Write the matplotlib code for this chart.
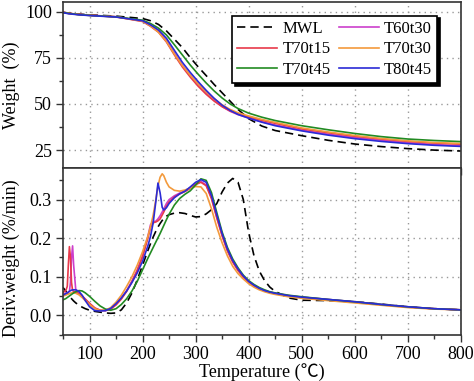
import matplotlib
matplotlib.use("Agg")
import matplotlib.pyplot as plt
from matplotlib.ticker import MultipleLocator, FormatStrFormatter

plt.rcParams['font.family'] = ['Liberation Serif', 'Noto Sans CJK SC']
plt.rcParams['font.size'] = 13

# series names and styles
names = ['MWL', 'T60t30', 'T70t15', 'T70t30', 'T70t45', 'T80t45']
colors = ['black', '#cc3fcc', '#e8394a', '#f39a3c', '#228b22', '#2b2bd6']

# TG curves (weight %)
T_tg = [50, 60, 80, 100, 150, 200, 215, 230, 245, 260, 275, 290, 305, 320,
        335, 350, 365, 380, 400, 425, 450, 500, 550, 600, 650, 700, 750, 800]
tg_mwl = [99.5, 99.2, 98.6, 98.2, 97.5, 96.2, 95.0, 93.0, 89.5, 85.0, 80.5, 75.0, 70.0, 65.3,
          60.5, 56.0, 51.5, 47.0, 42.0, 38.0, 35.6, 32.8, 30.3, 28.3, 26.9, 25.8, 25.0, 24.5]
tg_t60t30 = [99.6, 99.0, 98.4, 98.0, 97.2, 94.8, 92.3, 89.3, 84.3, 77.5, 71.0, 65.5, 60.5, 56.0,
             52.0, 48.6, 46.0, 44.2, 42.4, 40.3, 38.6, 35.8, 33.6, 31.8, 30.3, 29.0, 28.0, 27.3]
tg_t70t15 = [99.6, 99.1, 98.4, 98.0, 97.1, 94.6, 92.0, 88.8, 83.5, 76.5, 70.0, 64.5, 59.5, 55.2,
             51.5, 48.5, 46.2, 44.6, 43.0, 41.1, 39.5, 36.5, 34.4, 32.5, 31.0, 29.7, 28.8, 28.2]
tg_t70t30 = [99.5, 99.0, 98.3, 97.9, 97.1, 94.8, 92.2, 88.8, 83.8, 77.0, 70.8, 65.5, 60.8, 56.5,
             52.8, 49.5, 47.0, 45.2, 43.5, 41.6, 40.0, 37.0, 34.8, 32.9, 31.3, 30.0, 29.1, 28.6]
tg_t70t45 = [99.5, 99.0, 98.3, 97.9, 97.1, 95.3, 93.5, 91.0, 87.3, 82.0, 76.5, 71.0, 66.0, 61.3,
             57.0, 53.2, 50.0, 47.5, 45.0, 42.8, 41.0, 38.2, 36.0, 34.0, 32.3, 31.0, 30.2, 29.6]
tg_t80t45 = [99.4, 98.8, 98.2, 97.8, 97.0, 95.0, 92.8, 90.0, 85.5, 79.0, 72.5, 67.0, 62.0, 57.3,
             53.0, 49.3, 46.5, 44.3, 42.3, 40.1, 38.2, 35.4, 33.1, 31.2, 29.7, 28.5, 27.6, 27.0]

# DTG curves (%/min)
T_dtg = [50, 55, 58, 60, 62, 64, 66, 68, 70, 74,
         80, 86, 92, 100, 110, 120, 130, 140, 150, 160,
         170, 180, 190, 200, 210, 215, 220, 225, 229, 233,
         237, 240, 245, 250, 260, 270, 280, 290, 300, 310,
         320, 330, 340, 350, 360, 370, 380, 390, 400, 410,
         420, 430, 440, 450, 475, 500, 550, 600, 650, 700,
         750, 800]
dtg_mwl = [.072, .063, .057, .053, .049, .046, .043, .040, .037, .032,
           .026, .021, .017, .013, .010, .008, .006, .005, .006, .014,
           .032, .058, .092, .130, .168, .186, .203, .218, .229, .238,
           .246, .251, .257, .261, .265, .266, .264, .259, .255, .256,
           .263, .274, .290, .320, .343, .355, .345, .300, .215, .155,
           .115, .090, .073, .062, .045, .039, .038, .035, .029, .022,
           .017, .014]
dtg_t60t30 = [.055, .057, .058, .060, .062, .085, .150, .180, .130, .066,
              .058, .050, .041, .030, .018, .013, .012, .017, .028, .044,
              .064, .089, .118, .155, .205, .235, .243, .244, .250, .258,
              .268, .276, .290, .300, .310, .317, .323, .331, .341, .347,
              .338, .305, .255, .208, .168, .139, .117, .100, .087, .077,
              .070, .064, .060, .057, .051, .047, .041, .035, .028, .022,
              .017, .014]
dtg_t70t15 = [.060, .063, .075, .130, .178, .150, .085, .064, .062, .060,
              .056, .050, .042, .031, .019, .013, .012, .016, .027, .042,
              .062, .087, .116, .152, .200, .228, .240, .242, .245, .250,
              .260, .268, .283, .294, .307, .315, .321, .329, .339, .345,
              .336, .302, .252, .206, .167, .138, .116, .099, .086, .076,
              .069, .063, .059, .056, .050, .046, .040, .034, .027, .021,
              .017, .014]
dtg_t70t30 = [.050, .052, .054, .055, .056, .057, .058, .058, .058, .057,
              .053, .046, .038, .028, .017, .012, .013, .020, .034, .052,
              .075, .100, .130, .165, .205, .230, .260, .300, .335, .358,
              .367, .362, .345, .333, .324, .322, .325, .330, .334, .333,
              .316, .276, .228, .188, .154, .127, .108, .094, .082, .073,
              .066, .061, .057, .054, .048, .044, .038, .032, .026, .020,
              .016, .014]
dtg_t70t45 = [.040, .043, .046, .048, .050, .052, .054, .056, .058, .061,
              .064, .063, .058, .049, .036, .024, .016, .013, .017, .028,
              .043, .063, .088, .118, .148, .162, .176, .190, .201, .212,
              .224, .233, .248, .262, .286, .303, .314, .323, .338, .354,
              .350, .318, .266, .216, .176, .146, .123, .104, .090, .080,
              .072, .066, .061, .058, .052, .048, .041, .035, .028, .022,
              .017, .014]
dtg_t80t45 = [.052, .056, .058, .060, .062, .064, .065, .066, .066, .066,
              .062, .052, .038, .022, .012, .011, .012, .018, .030, .045,
              .063, .085, .110, .140, .180, .205, .240, .295, .343, .318,
              .280, .273, .279, .290, .305, .315, .322, .333, .345, .352,
              .345, .310, .260, .212, .172, .142, .120, .102, .088, .078,
              .070, .064, .060, .057, .051, .047, .041, .035, .028, .022,
              .017, .014]

tg_all = [tg_mwl, tg_t60t30, tg_t70t15, tg_t70t30, tg_t70t45, tg_t80t45]
dtg_all = [dtg_mwl, dtg_t60t30, dtg_t70t15, dtg_t70t30, dtg_t70t45, dtg_t80t45]

fig, (ax1, ax2) = plt.subplots(2, 1, sharex=True, figsize=(4.74, 3.81), dpi=100)
fig.subplots_adjust(left=0.133, right=0.972, top=0.996, bottom=0.122, hspace=0)

lines = {}
for i in range(len(names)):
    if names[i] == 'MWL':
        ls = (0, (5, 3))
    else:
        ls = '-'
    l, = ax1.plot(T_tg, tg_all[i], color=colors[i], ls=ls, lw=1.2, label=names[i])
    ax2.plot(T_dtg, dtg_all[i], color=colors[i], ls=ls, lw=1.2, label=names[i])
    lines[names[i]] = l

# axes cosmetics
for ax in (ax1, ax2):
    ax.set_xlim(50, 800)
    ax.xaxis.set_major_locator(MultipleLocator(100))
    ax.xaxis.set_minor_locator(MultipleLocator(50))
    ax.grid(True, which='major', ls=(0, (1, 3)), color='#999999', lw=1.0)
    ax.tick_params(which='both', direction='out', color='#333333', width=1.0)
    ax.tick_params(which='major', length=5, pad=3)
    ax.tick_params(which='minor', length=3)
    for s in ax.spines.values():
        s.set_color('#333333')
        s.set_linewidth(1.2)

ax1.set_ylim(15.3, 105.4)
ax1.yaxis.set_major_locator(MultipleLocator(25))
ax1.yaxis.set_minor_locator(MultipleLocator(12.5))
ax1.tick_params(axis='x', labelbottom=False)
ax1.set_ylabel('Weight  (%)', fontsize=13)
ax1.yaxis.set_label_coords(-0.108, 0.5)

ax2.set_ylim(-0.05, 0.382)
ax2.yaxis.set_major_locator(MultipleLocator(0.1))
ax2.yaxis.set_minor_locator(MultipleLocator(0.05))
ax2.yaxis.set_major_formatter(FormatStrFormatter('%.1f'))
ax2.set_ylabel('Deriv.weight (%/min)', fontsize=13)
ax2.yaxis.set_label_coords(-0.108, 0.46)
ax2.set_xlabel('Temperature (\u2103)', fontsize=13, va='bottom')
ax2.xaxis.set_label_coords(0.553, 0.0, transform=fig.transFigure)

# legend filled row by row like the original
order = ['MWL', 'T70t15', 'T70t45', 'T60t30', 'T70t30', 'T80t45']
leg = ax1.legend([lines[n] for n in order], order, ncol=2, loc='upper right',
                 bbox_to_anchor=(0.94, 0.915),
                 fontsize=12, frameon=True, fancybox=False, framealpha=1,
                 edgecolor='black', handlelength=2.4, handletextpad=0.3,
                 columnspacing=0.5, labelspacing=0.28, borderpad=0.3,
                 borderaxespad=0,
                 shadow={'facecolor': 'black', 'edgecolor': 'black', 'alpha': 1})
leg.get_frame().set_linewidth(1.2)

fig.savefig('out.png', dpi=100)
